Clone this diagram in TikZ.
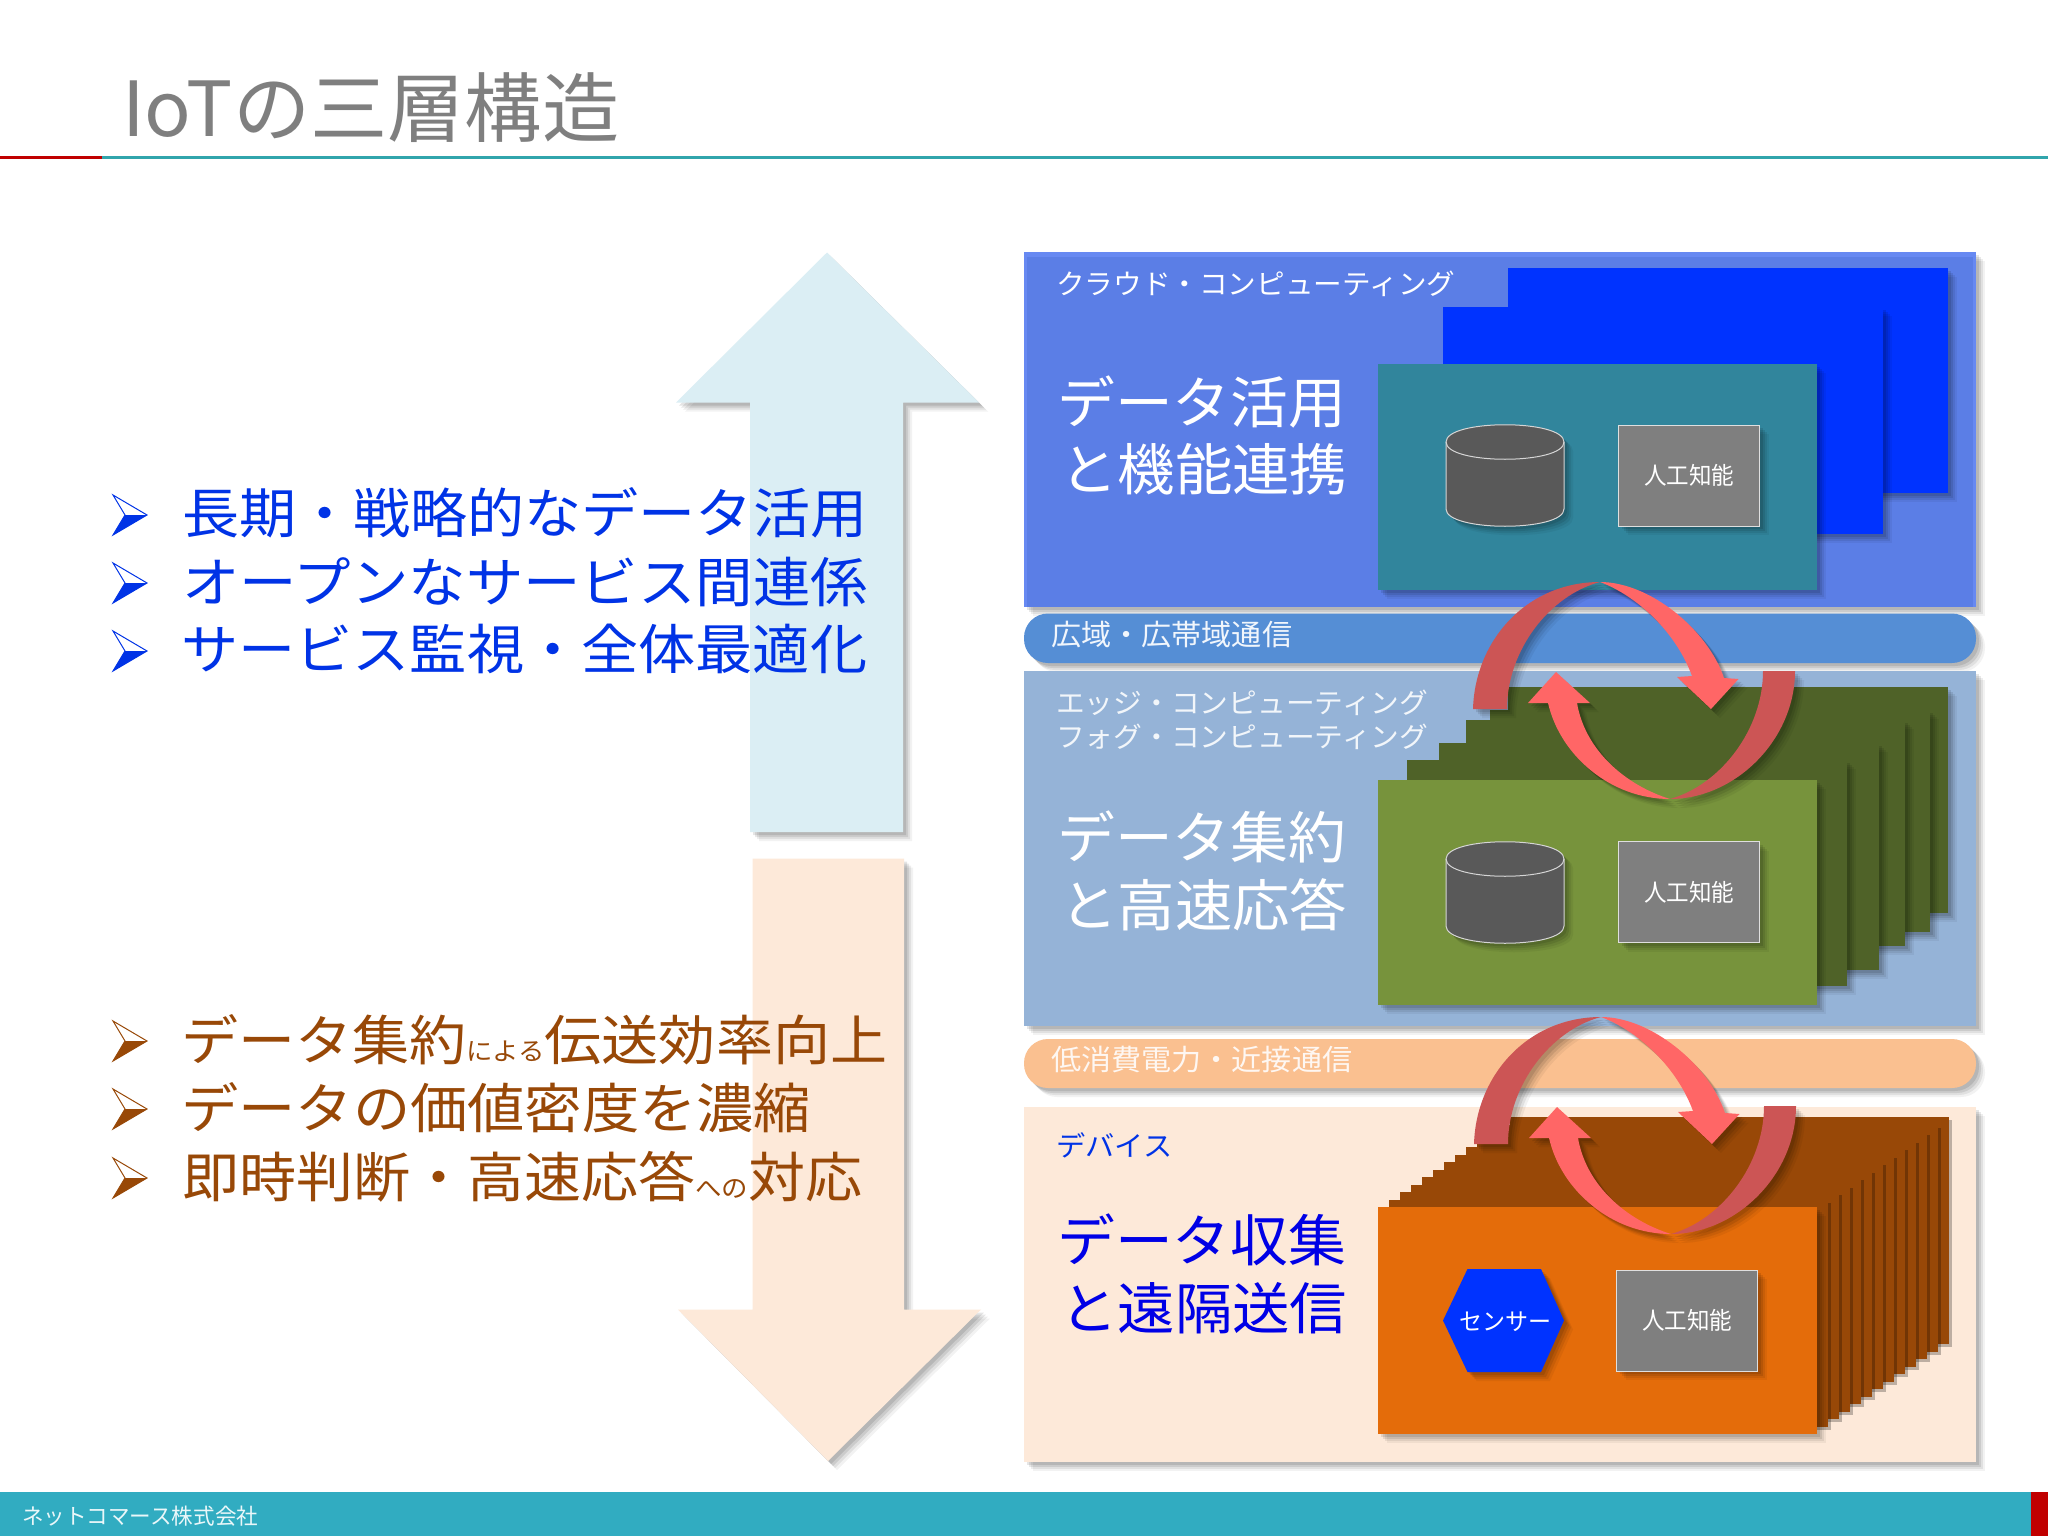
\documentclass[tikz,border=0pt]{standalone}
\usepackage{graphicx}
\usepackage{fontspec}
\setmainfont{Noto Sans CJK JP}
\newcommand\fitw[3]{\resizebox{#1pt}{\height}{\fontsize{#2pt}{#2pt}\selectfont #3}}
\newcommand\smallfs[2]{{\fontsize{#1pt}{#1pt}\selectfont #2}}
\definecolor{cloudedge}{HTML}{6789F2}
\definecolor{cloudfill}{HTML}{5B7EE6}
\definecolor{rblue}{HTML}{0033FF}
\definecolor{rteal}{HTML}{31859C}
\definecolor{band1}{HTML}{558ED5}
\definecolor{edgefill}{HTML}{95B3D7}
\definecolor{olive}{HTML}{77933C}
\definecolor{darkolive}{HTML}{4F6228}
\definecolor{band2}{HTML}{FAC090}
\definecolor{peach}{HTML}{FDE9D9}
\definecolor{orange}{HTML}{E46C0A}
\definecolor{brown}{HTML}{984807}
\definecolor{pale}{HTML}{DBEEF4}
\definecolor{aigray}{HTML}{7F7F7F}
\definecolor{cyl}{HTML}{595959}
\definecolor{footer}{HTML}{31ACC1}
\definecolor{txtblue}{HTML}{0033E6}
\definecolor{bigblue}{HTML}{0000E6}
\definecolor{ltred}{HTML}{FF6666}
\definecolor{dkred}{HTML}{CC5555}
\definecolor{titlegray}{HTML}{7F7F7F}
\definecolor{rule}{HTML}{31A5AC}
\definecolor{ruled}{HTML}{C00000}
\tikzset{
 softshadow/.style={
  preaction={draw=none,fill=black,fill opacity=.05,transform canvas={shift={(9pt,-9pt)}}},
  preaction={draw=none,fill=black,fill opacity=.07,transform canvas={shift={(7pt,-7pt)}}},
  preaction={draw=none,fill=black,fill opacity=.09,transform canvas={shift={(5pt,-5pt)}}},
  preaction={draw=none,fill=black,fill opacity=.10,transform canvas={shift={(3pt,-3pt)}}}},
 label/.style={anchor=west,inner sep=0pt,text=white},
 aibox/.style={draw=white!75!aigray,line width=1pt,fill=aigray,text=white,inner sep=0pt,minimum width=141pt,minimum height=101pt,softshadow},
 hexshape/.style={fill=rblue,draw=none,softshadow},
 bulletout/.style={line width=1pt,fill=white},
}
\newcommand\dbcyl[1]{%
 \path[fill=cyl,draw=white!75!cyl,line width=1pt,softshadow] (1446,#1+17) -- (1446,#1+84) .. controls (1446,#1+107) and (1564,#1+107) .. (1564,#1+84) -- (1564,#1+17) .. controls (1564,#1-6) and (1446,#1-6) .. (1446,#1+17) -- cycle;
 \draw[white!75!cyl,line width=1pt] (1446,#1+17) .. controls (1446,#1+40) and (1564,#1+40) .. (1564,#1+17);
}
\newcommand\cyclearrows{%
 \path[fill=dkred,softshadow] (1473,709) .. controls (1475,640) and (1527,582) .. (1600,582) .. controls (1550,595) and (1507,650) .. (1507,709) -- cycle;
 \path[fill=ltred,softshadow] (1600,582) .. controls (1650,582) and (1708,630) .. (1724,678) -- (1738.5,679) -- (1711,709) -- (1677,677) -- (1692,676) .. controls (1675,630) and (1635,595) .. (1600,582) -- cycle;
 \path[fill=ltred,softshadow] (1556,672) -- (1590,703) -- (1577,703) .. controls (1585,750) and (1625,785) .. (1670,799) .. controls (1610,799) and (1560,755) .. (1548,703) -- (1528,703) -- cycle;
 \path[fill=dkred,softshadow] (1670,799) .. controls (1735,799) and (1795,740) .. (1795,671) -- (1763,671) .. controls (1763,730) and (1720,785) .. (1670,799) -- cycle;
}
\newcommand\bulletmark[2]{%
 \draw[#2,bulletout] (113,#1-20) -- (147,#1) -- (113,#1+20) -- (125,#1) -- cycle;
 \fill[#2] (113,#1+20) -- (147,#1) -- (125,#1) -- cycle;
}
\begin{document}
\begin{tikzpicture}[x=1pt,y=-1pt]
\useasboundingbox (0,0) rectangle (2048,1536);
\fill[white] (0,0) rectangle (2048,1536);
% title
\node[anchor=west,inner sep=0pt,text=titlegray] (title) at (122,108) {\fitw{497}{76}{IoTの三層構造}};
\fill[rule] (102,156.2) rectangle (2048,158.8);
\fill[ruled] (0,156.2) rectangle (102,158.8);
% footer
\fill[footer] (0,1491.5) rectangle (2048,1536);
\fill[ruled] (2031,1491.5) rectangle (2048,1536);
\node[label,text=white!90!footer] (footertext) at (22,1516) {\fitw{236}{22}{ネットコマース株式会社}};
% left arrows
\path[fill=pale,softshadow] (827,252.5) -- (979,402.5) -- (903,402.5) -- (903,832) -- (750,832) -- (750,402.5) -- (676,402.5) -- cycle;
\path[fill=peach,softshadow] (752.5,858.5) -- (904,858.5) -- (904,1309.5) -- (981,1309.5) -- (828,1461) -- (678,1309.5) -- (752.5,1309.5) -- cycle;
% bullets
\bulletmark{515}{txtblue}
\bulletmark{583}{txtblue}
\bulletmark{651}{txtblue}
\bulletmark{1041}{brown}
\bulletmark{1109}{brown}
\bulletmark{1178}{brown}
\node[label,text=txtblue] (b1) at (182,513) {\fitw{685}{54}{長期・戦略的なデータ活用}};
\node[label,text=txtblue] (b2) at (182,582) {\fitw{686}{54}{オープンなサービス間連係}};
\node[label,text=txtblue] (b3) at (181,649) {\fitw{686}{54}{サービス監視・全体最適化}};
\node[label,text=brown] (c1) at (181,1040) {\fitw{706}{54}{データ集約\smallfs{25}{による}伝送効率向上}};
\node[label,text=brown] (c2) at (181,1108) {\fitw{630}{54}{データの価値密度を濃縮}};
\node[label,text=brown] (c3) at (182,1177) {\fitw{680}{54}{即時判断・高速応答\smallfs{25}{への}対応}};
% cloud layer
\path[fill=cloudedge,softshadow] (1024,251.5) rectangle (1976,607);
\fill[cloudfill] (1027,257) rectangle (1973,607);
\path[fill=rblue,softshadow] (1508,267.5) rectangle (1948,493);
\path[fill=rblue,softshadow] (1443,307) rectangle (1883,534);
\path[fill=rteal,softshadow] (1378,364) rectangle (1817,590);
\node[label] (cloudlabel) at (1056,284) {\fitw{399}{28}{クラウド・コンピューティング}};
\node[label] (big1a) at (1057,402) {\fitw{289}{56}{データ活用}};
\node[label] (big1b) at (1060,469) {\fitw{287}{56}{と機能連携}};
\dbcyl{425}
\node[aibox] (ai1) at (1689,475.5) {\raisebox{2pt}{\fitw{90}{24}{人工知能}}};
% band 1
\path[fill=band1,rounded corners=24pt,softshadow] (1024,613.5) rectangle (1976,663);
\node[label,text=white!92!band1] (band1text) at (1051,635) {\fitw{241}{29}{広域・広帯域通信}};
% edge layer
\path[fill=edgefill,softshadow] (1024,671) rectangle (1976,1026);
\path[fill=darkolive,softshadow] (1508,687) rectangle (1948,913);
\path[fill=darkolive,softshadow] (1490,710) rectangle (1930,932);
\path[fill=darkolive,softshadow] (1466,720) rectangle (1905,946);
\path[fill=darkolive,softshadow] (1439,743) rectangle (1879,970);
\path[fill=darkolive,softshadow] (1407,760) rectangle (1847,986);
\path[fill=olive,softshadow] (1378,780) rectangle (1817,1005);
\node[label,text=white!88!edgefill] (edgelabel) at (1056,703) {\fitw{372}{28}{エッジ・コンピューティング}};
\node[label,text=white!88!edgefill] (foglabel) at (1056,737) {\fitw{372}{28}{フォグ・コンピューティング}};
\node[label] (big2a) at (1057,837) {\fitw{289}{56}{データ集約}};
\node[label] (big2b) at (1060,905) {\fitw{287}{56}{と高速応答}};
\dbcyl{842}
\node[aibox] (ai2) at (1689,892) {\raisebox{2pt}{\fitw{90}{24}{人工知能}}};
% band 2
\path[fill=band2,rounded corners=24pt,softshadow] (1024,1039) rectangle (1976,1088);
\node[label,text=white!88!band2] (band2text) at (1051,1060) {\fitw{301}{29}{低消費電力・近接通信}};
% device layer
\path[fill=peach,softshadow] (1024,1106.5) rectangle (1976,1461.5);
\foreach \i in {12,11,...,1}{
 \path[fill=brown,preaction={draw=none,fill=black,fill opacity=.25,transform canvas={shift={(3pt,-3pt)}}}] ({1378+11*\i},{1207-7.5*\i}) rectangle ({1817+11*\i},{1434-7.5*\i});
}
\path[fill=orange,softshadow] (1378,1207) rectangle (1817,1434);
\node[label,text=txtblue] (devlabel) at (1056,1145) {\fitw{116}{28}{デバイス}};
\node[label,text=bigblue] (big3a) at (1057,1240) {\fitw{289}{56}{データ収集}};
\node[label,text=bigblue] (big3b) at (1060,1308) {\fitw{287}{56}{と遠隔送信}};
\path[hexshape] (1467.5,1269) -- (1541,1269) -- (1564,1320.5) -- (1541,1372) -- (1467.5,1372) -- (1443,1320.5) -- cycle;
\node[label] (sensor) at (1459,1322) {\fitw{92}{24}{センサー}};
\node[aibox] (ai3) at (1687,1320.5) {\fitw{90}{24}{人工知能}};
% cycle arrows
\cyclearrows
\begin{scope}[shift={(1,435)}]
\cyclearrows
\end{scope}
\end{tikzpicture}
\end{document}
